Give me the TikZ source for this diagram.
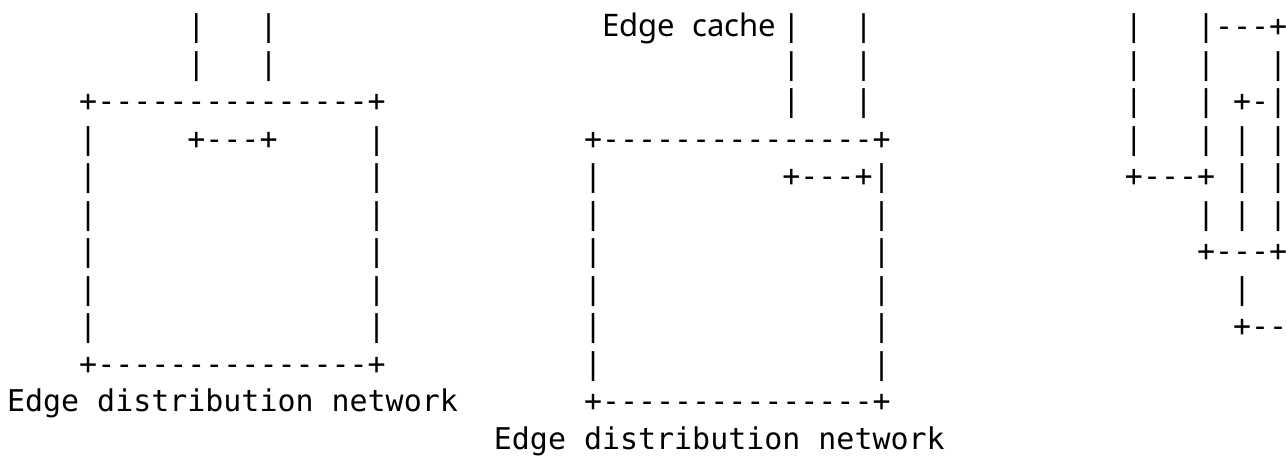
\documentclass[tikz,border=0pt]{standalone}
\usepackage{fontspec}
\setmonofont{DejaVu Sans Mono}
\newfontfamily\cachefont{Noto Sans}
\usetikzlibrary{positioning}
% grid of the ascii art: column and baseline of a row
\newcommand\colx[1]{6.9+18.03*#1}
\newcommand\rowy[1]{37.5*#1-0.8}

\begin{document}
\begin{tikzpicture}[x=1pt,y=-1pt]
    \tikzset{
      art/.style={font=\ttfamily\fontsize{29.95}{37.5}\selectfont,inner sep=0pt,anchor=base west},
      cachelabel/.style={font=\cachefont\fontsize{31}{37.5}\selectfont,inner sep=0pt,anchor=base west}
    }
    \useasboundingbox[fill=white] (0,0) rectangle (1286,458);
    \clip (0,0) rectangle (1286,458);

    % left: edge distribution network
    \node[art](ltrunk1) at ({\colx{10}},{\rowy{1}}){|~~~|};
    \node[art](ltrunk2) at ({\colx{10}},{\rowy{2}}){|~~~|};
    \node[art](ltop) at ({\colx{4}},{\rowy{3}}){+---------------+};
    \node[art](lrow4) at ({\colx{4}},{\rowy{4}}){|~~~~~+---+~~~~~|};
    \foreach \n in {5,...,9}{
      \node[art](lwall\n) at ({\colx{4}},{\rowy{\n}}){|~~~~~~~~~~~~~~~|};
    }
    \node[art](lbottom) at ({\colx{4}},{\rowy{10}}){+---------------+};
    \node[art](lname) at ({\colx{0}},{\rowy{11}}){Edge distribution network};

    % middle: edge cache at the corner
    \node[cachelabel](cache) at ({\colx{33}},{\rowy{1}}){\makebox[90.15pt][l]{Edge}cache};
    \foreach \n in {1,2,3}{
      \node[art](mtrunk\n) at ({\colx{43}},{\rowy{\n}}){|~~~|};
    }
    \node[art](mtop) at ({\colx{32}},{\rowy{4}}){+---------------+};
    \node[art](mrow5) at ({\colx{32}},{\rowy{5}}){|~~~~~~~~~~+---+|};
    \foreach \n in {6,...,10}{
      \node[art](mwall\n) at ({\colx{32}},{\rowy{\n}}){|~~~~~~~~~~~~~~~|};
    }
    \node[art](mbottom) at ({\colx{32}},{\rowy{11}}){+---------------+};
    \node[art](mname) at ({\colx{27}},{\rowy{12}}){Edge distribution network};

    % right: nested loops, cut at the edge
    \node[art](rrow1) at ({\colx{62}},{\rowy{1}}){|~~~|---+};
    \node[art](rrow2) at ({\colx{62}},{\rowy{2}}){|~~~|~~~|};
    \node[art](rrow3) at ({\colx{62}},{\rowy{3}}){|~~~|~+-|};
    \node[art](rrow4) at ({\colx{62}},{\rowy{4}}){|~~~|~|~|};
    \node[art](rrow5) at ({\colx{62}},{\rowy{5}}){+---+~|~|};
    \node[art](rrow6) at ({\colx{66}},{\rowy{6}}){|~|~|};
    \node[art](rrow7) at ({\colx{66}},{\rowy{7}}){+---+};
    \node[art](rrow8) at ({\colx{68}},{\rowy{8}}){|};
    \node[art](rrow9) at ({\colx{68}},{\rowy{9}}){+--};

  \end{tikzpicture}
\end{document}
